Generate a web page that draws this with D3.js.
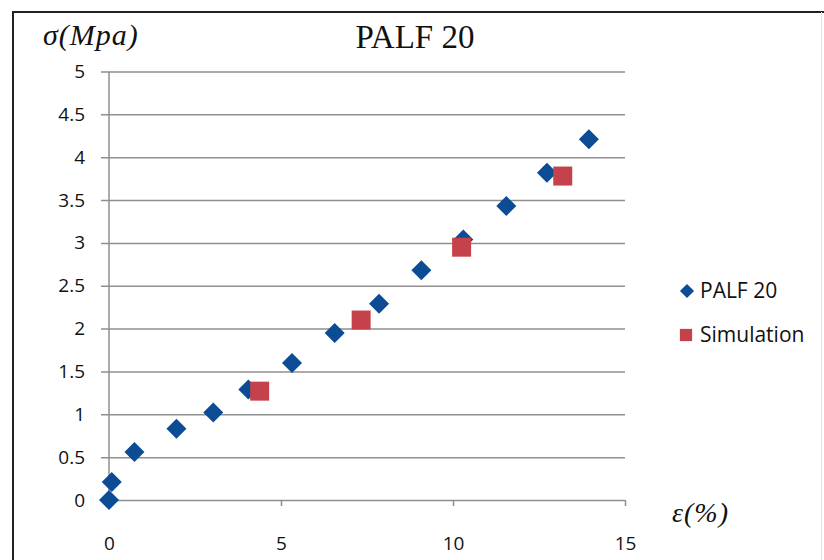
<!DOCTYPE html>
<html>
<head>
<meta charset="utf-8">
<script src="https://cdn.jsdelivr.net/npm/d3@7"></script>
<style>
html,body{margin:0;padding:0;background:#fff;}
svg{display:block;}
</style>
</head>
<body>
<svg id="chart" width="824" height="560"></svg>
<script>
const strainExp = [0, 0.08, 0.74, 1.96, 3.03, 4.05, 5.32, 6.56, 7.85, 9.08, 10.3, 11.55, 12.73, 13.95];
const stressExp = [0, 0.21, 0.56, 0.83, 1.02, 1.29, 1.60, 1.95, 2.29, 2.68, 3.04, 3.43, 3.82, 4.21];
const strainSim = [4.38, 7.33, 10.25, 13.19];
const stressSim = [1.27, 2.10, 2.95, 3.78];
const xTicks = [0, 5, 10, 15];
const yTicks = [0, 0.5, 1, 1.5, 2, 2.5, 3, 3.5, 4, 4.5, 5];
const seriesNames = ["PALF 20", "Simulation"];
const titleText = "PALF 20";

const svg = d3.select("#chart");
const x = d3.scaleLinear().domain([0, 15]).range([109, 625]);
const y = d3.scaleLinear().domain([0, 5]).range([500, 71.5]);
const blue = "#0b4c95", red = "#c5424a", grid = "#8f8f8f";
const tickFont = "'Open Sans', sans-serif";
const serif = "'Liberation Serif', 'Times New Roman', serif";

// outer frame (top and left edges visible)
svg.append("line").attr("x1", 13).attr("x2", 824).attr("y1", 12).attr("y2", 12)
  .attr("stroke", "#222").attr("stroke-width", 2);
svg.append("line").attr("x1", 13).attr("x2", 13).attr("y1", 11).attr("y2", 560)
  .attr("stroke", "#222").attr("stroke-width", 2);
svg.append("line").attr("x1", 821.5).attr("x2", 821.5).attr("y1", 12).attr("y2", 560)
  .attr("stroke", "#e4e4e4").attr("stroke-width", 1);

// y axis with gridlines
const yAxis = d3.axisLeft(y).tickValues(yTicks).tickSize(-(625 - 109)).tickPadding(24)
  .tickFormat(d => String(d));
const gy = svg.append("g").attr("transform", "translate(109,0)").call(yAxis);
gy.select(".domain").remove();
gy.selectAll(".tick line").attr("x1", -8).attr("stroke", grid).attr("stroke-width", 1.5);
gy.selectAll(".tick text").attr("font-family", tickFont).attr("font-size", 19)
  .attr("fill", "#111");

// vertical axis line
svg.append("line").attr("x1", 109).attr("x2", 109).attr("y1", y(5)).attr("y2", y(0))
  .attr("stroke", grid).attr("stroke-width", 1.5);

// x axis
const xAxis = d3.axisBottom(x).tickValues(xTicks).tickSize(6).tickPadding(31).tickFormat(d => String(d));
const gx = svg.append("g").attr("transform", `translate(0,${y(0)})`).call(xAxis);
gx.select(".domain").remove();
gx.selectAll(".tick line").attr("stroke", grid).attr("stroke-width", 1.5);
gx.selectAll(".tick text").attr("font-family", tickFont).attr("font-size", 19).attr("fill", "#111");

// experimental points (diamonds)
const diamond = d3.symbol().type(d3.symbolSquare).size(200);
svg.append("g").selectAll("path").data(strainExp.map((v, i) => [v, stressExp[i]])).join("path")
  .attr("d", diamond)
  .attr("transform", d => `translate(${x(d[0])},${y(d[1])}) rotate(45)`)
  .attr("fill", blue);

// simulation points (squares)
const square = d3.symbol().type(d3.symbolSquare).size(361);
svg.append("g").selectAll("path").data(strainSim.map((v, i) => [v, stressSim[i]])).join("path")
  .attr("d", square)
  .attr("transform", d => `translate(${x(d[0])},${y(d[1])})`)
  .attr("fill", red);

// title
svg.append("text").attr("x", 415).attr("y", 48).attr("text-anchor", "middle")
  .attr("font-family", serif).attr("font-size", 33)
  .attr("fill", "#111").text(titleText);

// y axis title
svg.append("text").attr("x", 43).attr("y", 45)
  .attr("font-family", serif).attr("font-style", "italic")
  .attr("font-size", 30).attr("letter-spacing", 1).attr("fill", "#111").text("σ(Mpa)");

// x axis title
svg.append("text").attr("x", 672).attr("y", 522)
  .attr("font-family", serif).attr("font-style", "italic")
  .attr("font-size", 28).attr("letter-spacing", 1).attr("fill", "#111").text("ε(%)");

// legend
const legend = svg.append("g");
const legendY = [291, 335];
legend.append("path").attr("d", d3.symbol().type(d3.symbolSquare).size(100)())
  .attr("transform", `translate(687,${legendY[0]}) rotate(45)`).attr("fill", blue);
legend.append("path").attr("d", d3.symbol().type(d3.symbolSquare).size(150)())
  .attr("transform", `translate(686,${legendY[1]})`).attr("fill", red);
legend.selectAll("text").data(seriesNames).join("text")
  .attr("x", 700).attr("y", (d, i) => legendY[i] + 7)
  .attr("font-family", tickFont).attr("font-size", 21).attr("fill", "#111")
  .text(d => d);
</script>
</body>
</html>
